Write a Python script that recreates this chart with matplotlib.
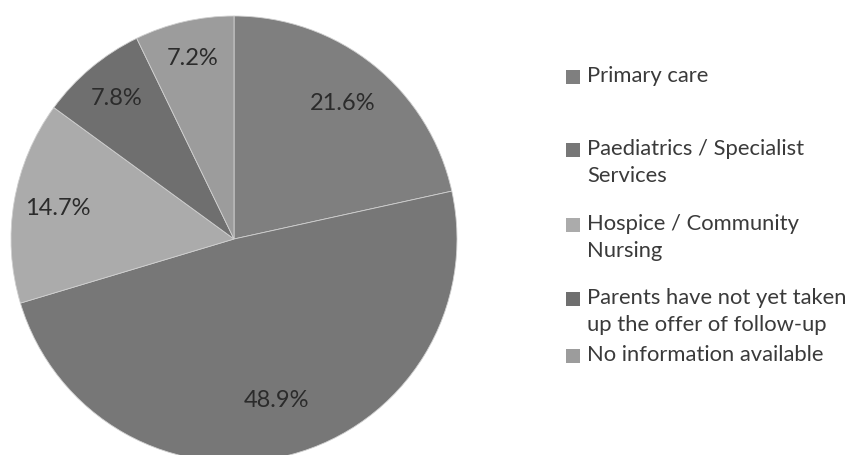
import matplotlib
matplotlib.use("Agg")
import matplotlib.pyplot as plt
import numpy as np

categories = ["Primary care", "Paediatrics / Specialist\nServices", "Hospice / Community\nNursing",
              "Parents have not yet taken\nup the offer of follow-up", "No information available"]
values = [21.6, 48.9, 14.7, 7.8, 7.2]
colors = ["#7f7f7f", "#777777", "#ababab", "#6f6f6f", "#9c9c9c"]

# layout: radial position of each percentage label (fraction of radius)
label_dist = [0.78, 0.75, 0.80, 0.82, 0.83]

plt.rcParams['font.family'] = ['Lato', 'DejaVu Sans']

W, H = 849, 455
fig = plt.figure(figsize=(W / 100, H / 100), dpi=100)
ax = fig.add_axes([0, 0, 1, 1])
cx, cy, R = 234, H - 239, 223
wedges, _ = ax.pie(values, colors=colors, startangle=90, counterclock=False,
                   radius=R, center=(cx, cy),
                   wedgeprops=dict(edgecolor="#d0d0d0", linewidth=0.6))
ax.set_xlim(0, W)
ax.set_ylim(0, H)
ax.set_aspect("equal")
ax.axis("off")

for w, v, d in zip(wedges, values, label_dist):
    ang = np.deg2rad((w.theta1 + w.theta2) / 2)
    r = d * R
    ax.text(cx + r * np.cos(ang), cy + r * np.sin(ang), f"{v:.1f}%",
            ha="center", va="center", fontsize=17, color="#2b2b2b")

# legend entries (y of first text line centre, in pixels from top)
legend_y = [77, 150, 225, 299, 356]
for cat, col, y in zip(categories, colors, legend_y):
    yy = H - y
    ax.add_patch(plt.Rectangle((566, yy - 7), 14, 14, facecolor=col, edgecolor="none"))
    ax.text(587, yy + 11, cat, ha="left", va="top", fontsize=15.8, color="#3a3a3a",
            linespacing=1.45)

fig.savefig("out.png", dpi=100)
